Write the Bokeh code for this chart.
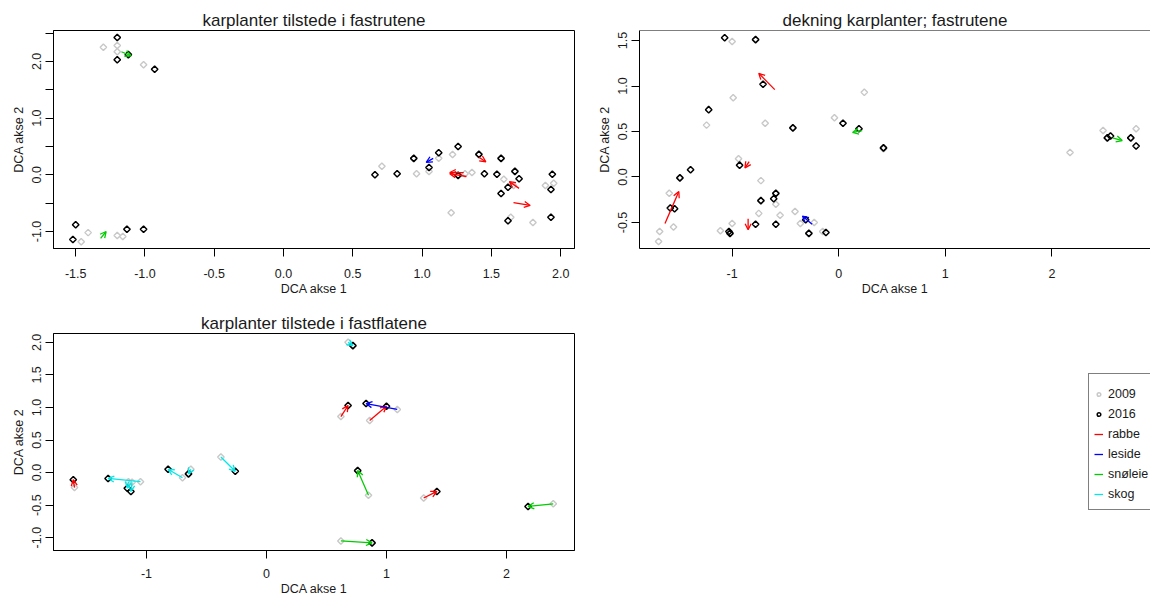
import numpy as np
from bokeh.plotting import figure
from bokeh.models import (Range1d, FixedTicker, Arrow, OpenHead, ColumnDataSource,
                          Span, Legend, LegendItem)
from bokeh.layouts import column, row
from bokeh.embed import file_html
from bokeh.resources import INLINE

FONT = "Liberation Sans"
TXT = "#1a1a1a"
GRAY = "#c8c8c8"
BLACK = "#000000"
GROUPS = ["rabbe", "leside", "snøleie", "skog"]
GROUP_COLORS = ["#ff0000", "#0000ff", "#00cc00", "#00e8e8"]

# ---------------- panel 1: karplanter tilstede i fastrutene ----------------
p1_x2009 = [-1.30, -1.20, -1.20, -1.01, -1.41, -1.46, -1.20, -1.16, 0.71, 0.96, 1.05,
            1.12, 1.22, 1.36, 1.31, 1.59, 1.66, 1.89, 1.95, 1.21, 1.80, 1.64]
p1_y2009 = [2.25, 2.28, 2.17, 1.94, -1.02, -1.18, -1.07, -1.09, 0.15, 0.02, 0.06,
            0.29, 0.36, 0.04, 0.02, -0.08, -0.19, -0.19, -0.15, -0.67, -0.84, -0.75]
p1_x2016 = [-1.20, -1.20, -1.12, -0.93, -1.50, -1.52, -1.13, -1.01, 0.66, 0.82, 0.94,
            1.05, 1.12, 1.26, 1.26, 1.41, 1.45, 1.57, 1.54, 1.67, 1.70, 1.62, 1.57,
            1.94, 1.93, 1.62, 1.93]
p1_y2016 = [2.42, 2.03, 2.12, 1.86, -0.88, -1.14, -0.96, -0.96, 0.00, 0.02, 0.29,
            0.13, 0.39, 0.50, -0.01, 0.36, 0.02, 0.29, 0.01, 0.06, -0.07, -0.22, -0.33,
            0.01, -0.26, -0.81, -0.75]
p1_arrow_group = ["snøleie", "snøleie", "rabbe", "rabbe", "rabbe", "rabbe", "rabbe", "leside"]
p1_arrow_x0 = [-1.17, -1.32, 1.32, 1.30, 1.41, 1.70, 1.66, 1.08]
p1_arrow_y0 = [2.17, -1.12, -0.03, 0.04, 0.31, -0.24, -0.49, 0.29]
p1_arrow_x1 = [-1.10, -1.28, 1.20, 1.20, 1.46, 1.63, 1.78, 1.03]
p1_arrow_y1 = [2.10, -1.00, 0.02, 0.04, 0.23, -0.12, -0.54, 0.22]
p1_xticks = [-1.5, -1.0, -0.5, 0.0, 0.5, 1.0, 1.5, 2.0]
p1_xlabels = ["-1.5", "-1.0", "-0.5", "0.0", "0.5", "1.0", "1.5", "2.0"]
p1_yticks = [-1.0, -0.5, 0.0, 0.5, 1.0, 1.5, 2.0, 2.5]
p1_ylabels = ["-1.0", "", "0.0", "", "1.0", "", "2.0", ""]

# ---------------- panel 2: dekning karplanter; fastrutene ----------------
p2_x2009 = [-1.00, -0.99, -1.24, -0.69, -0.04, -0.94, -0.73, -1.59, -1.55, -1.68, -1.69,
            -1.11, -1.00, -0.75, -0.59, -0.55, -0.41, -0.36, -0.23, -0.15, 0.24, 0.42,
            2.17, 2.48, 2.79]
p2_y2009 = [1.49, 0.87, 0.57, 0.59, 0.65, 0.20, -0.04, -0.18, -0.55, -0.60, -0.71,
            -0.59, -0.51, -0.40, -0.30, -0.42, -0.38, -0.51, -0.50, -0.60, 0.93, 0.31,
            0.27, 0.51, 0.53]
p2_x2016 = [-1.07, -0.78, -0.71, -1.22, -0.43, 0.04, 0.19, -1.39, -1.49, -0.93, -1.58,
            -1.54, -0.73, -0.59, -0.61, -0.78, -0.59, -1.03, -1.02, -0.31, -0.28, -0.12,
            0.42, 2.52, 2.55, 2.74, 2.79]
p2_y2016 = [1.53, 1.51, 1.02, 0.74, 0.54, 0.59, 0.53, 0.08, -0.01, 0.13, -0.34,
            -0.35, -0.26, -0.18, -0.24, -0.52, -0.52, -0.60, -0.62, -0.47, -0.62, -0.61,
            0.32, 0.43, 0.45, 0.43, 0.34]
p2_arrow_group = ["rabbe", "rabbe", "rabbe", "rabbe", "leside", "snøleie", "snøleie"]
p2_arrow_x0 = [-0.60, -1.63, -0.84, -0.85, -0.25, 0.22, 2.57]
p2_arrow_y0 = [0.96, -0.51, 0.17, -0.46, -0.52, 0.51, 0.43]
p2_arrow_x1 = [-0.75, -1.50, -0.88, -0.85, -0.34, 0.13, 2.66]
p2_arrow_y1 = [1.14, -0.16, 0.10, -0.58, -0.43, 0.49, 0.40]
p2_xticks = [-1.0, 0.0, 1.0, 2.0]
p2_xlabels = ["-1", "0", "1", "2"]
p2_yticks = [-0.5, 0.0, 0.5, 1.0, 1.5]
p2_ylabels = ["-0.5", "0.0", "0.5", "1.0", "1.5"]

# ---------------- panel 3: karplanter tilstede i fastflatene ----------------
p3_group = ["rabbe", "skog", "skog", "skog", "skog", "skog", "skog", "skog", "rabbe",
            "leside", "rabbe", "snøleie", "rabbe", "snøleie", "snøleie"]
p3_x2009 = [-1.60, -1.05, -1.15, -1.12, -0.70, -0.63, -0.38, 0.68, 0.62, 1.09, 0.86,
            0.85, 1.31, 2.39, 0.62]
p3_y2009 = [-0.23, -0.14, -0.14, -0.15, -0.08, 0.05, 0.24, 2.00, 0.86, 0.97, 0.80,
            -0.35, -0.39, -0.48, -1.05]
p3_x2016 = [-1.61, -1.32, -1.16, -1.13, -0.82, -0.65, -0.26, 0.72, 0.68, 0.83, 1.00,
            0.76, 1.42, 2.18, 0.88]
p3_y2016 = [-0.11, -0.09, -0.24, -0.29, 0.05, -0.02, 0.02, 1.95, 1.03, 1.06, 1.02,
            0.03, -0.29, -0.52, -1.08]
p3_xticks = [-1.0, 0.0, 1.0, 2.0]
p3_xlabels = ["-1", "0", "1", "2"]
p3_yticks = [-1.0, -0.5, 0.0, 0.5, 1.0, 1.5, 2.0]
p3_ylabels = ["-1.0", "-0.5", "0.0", "0.5", "1.0", "1.5", "2.0"]

legend_labels = ["2009", "2016"] + GROUPS


def make_panel(title, xr, yr, width, height, borders, xstand):
    left, right, top, bottom = borders
    p = figure(width=width, height=height, x_range=Range1d(*xr), y_range=Range1d(*yr),
               output_backend="svg", toolbar_location=None,
               min_border_left=left, min_border_right=right,
               min_border_top=top, min_border_bottom=bottom,
               background_fill_color="white", border_fill_color="white")
    p.grid.visible = False
    p.outline_line_color = "black"
    p.outline_line_width = 1
    p.title.text = title
    p.title.align = "center"
    p.title.text_font = FONT
    p.title.text_font_size = "17px"
    p.title.text_font_style = "normal"
    p.title.text_color = TXT
    p.title.standoff = 2
    p.xaxis.axis_label = "DCA akse 1"
    p.yaxis.axis_label = "DCA akse 2"
    for ax in list(p.xaxis) + list(p.yaxis):
        ax.major_tick_out = 8
        ax.major_tick_in = 0
        ax.minor_tick_line_color = None
        ax.axis_line_color = "black"
        ax.major_tick_line_color = "black"
        ax.major_label_text_font = FONT
        ax.major_label_text_font_size = "12.5px"
        ax.major_label_text_color = TXT
        ax.axis_label_text_font = FONT
        ax.axis_label_text_font_size = "12.5px"
        ax.axis_label_text_font_style = "normal"
        ax.axis_label_text_color = TXT
    p.xaxis.major_label_standoff = xstand[0]
    p.xaxis.axis_label_standoff = xstand[1]
    p.yaxis.major_label_standoff = 4
    p.yaxis.axis_label_standoff = 4
    p.yaxis.major_label_orientation = "vertical"
    return p


def set_ticks(p, xt, xl, yt, yl):
    p.xaxis.ticker = FixedTicker(ticks=xt)
    p.yaxis.ticker = FixedTicker(ticks=yt)
    p.xaxis.major_label_overrides = {float(t): l for t, l in zip(xt, xl)}
    p.yaxis.major_label_overrides = {float(t): l for t, l in zip(yt, yl)}


def add_points(p, x09, y09, x16, y16):
    p.scatter(x09, y09, marker="square", angle=np.pi / 4, size=4.6,
              fill_color=None, line_color=GRAY, line_width=1.4)
    p.scatter(x16, y16, marker="square", angle=np.pi / 4, size=4.6,
              fill_color=None, line_color=BLACK, line_width=1.5)


def add_arrows(p, groups, x0, y0, x1, y1):
    for g, c in zip(GROUPS, GROUP_COLORS):
        idx = [i for i, gg in enumerate(groups) if gg == g]
        if not idx:
            continue
        src = ColumnDataSource(dict(x0=[x0[i] for i in idx], y0=[y0[i] for i in idx],
                                    x1=[x1[i] for i in idx], y1=[y1[i] for i in idx]))
        p.add_layout(Arrow(end=OpenHead(size=6, line_color=c, line_width=1.3),
                           x_start="x0", y_start="y0", x_end="x1", y_end="y1",
                           source=src, line_color=c, line_width=1.3))


# panel 1
p1 = make_panel("karplanter tilstede i fastrutene", (-1.66, 2.10), (-1.30, 2.545),
                594, 300, (53, 20, 30, 52), (12, 1))
set_ticks(p1, p1_xticks, p1_xlabels, p1_yticks, p1_ylabels)
add_points(p1, p1_x2009, p1_y2009, p1_x2016, p1_y2016)
add_arrows(p1, p1_arrow_group, p1_arrow_x0, p1_arrow_y0, p1_arrow_x1, p1_arrow_y1)

# panel 2 (frame runs off the right edge of the picture)
p2_ymax = 1.61
p2 = make_panel("dekning karplanter; fastrutene", (-1.869, 2.925), (-0.786, p2_ymax),
                556, 300, (43, 0, 30, 52), (12, 1))
p2.outline_line_color = None
p2.add_layout(Span(location=p2_ymax, dimension="width", line_color="black", line_width=1))
set_ticks(p2, p2_xticks, p2_xlabels, p2_yticks, p2_ylabels)
add_points(p2, p2_x2009, p2_y2009, p2_x2016, p2_y2016)
add_arrows(p2, p2_arrow_group, p2_arrow_x0, p2_arrow_y0, p2_arrow_x1, p2_arrow_y1)

# panel 3
p3 = make_panel("karplanter tilstede i fastflatene", (-1.775, 2.567), (-1.197, 2.136),
                594, 298, (53, 20, 33, 45), (10, 1))
set_ticks(p3, p3_xticks, p3_xlabels, p3_yticks, p3_ylabels)
add_points(p3, p3_x2009, p3_y2009, p3_x2016, p3_y2016)
add_arrows(p3, p3_group, p3_x2009, p3_y2009, p3_x2016, p3_y2016)

# legend panel
p4 = figure(width=556, height=298, x_range=Range1d(0, 1), y_range=Range1d(0, 1),
            output_backend="svg", toolbar_location=None,
            x_axis_location=None, y_axis_location=None, min_border=0,
            background_fill_color="white", border_fill_color="white")
p4.grid.visible = False
p4.outline_line_color = None
r09 = p4.scatter(x=[-5], y=[-5], marker="circle", size=5, fill_color=None,
                 line_color=GRAY, line_width=1.5)
r16 = p4.scatter(x=[-5], y=[-5], marker="circle", size=5, fill_color=None,
                 line_color=BLACK, line_width=1.5)
items = [LegendItem(label=legend_labels[0], renderers=[r09]),
         LegendItem(label=legend_labels[1], renderers=[r16])]
for g, c in zip(GROUPS, GROUP_COLORS):
    rl = p4.line(x=[-5, -4], y=[-5, -4], line_color=c, line_width=1.3)
    items.append(LegendItem(label=g, renderers=[rl]))
leg = Legend(items=items, location=(494, 40), margin=0, padding=5,
             title=" ", title_text_font_size="1px", title_standoff=4,
             glyph_width=9, glyph_height=20, label_height=20, spacing=0,
             label_standoff=5, label_text_font=FONT, label_text_font_size="12.5px",
             label_text_color=TXT, border_line_color="black", border_line_width=1,
             background_fill_color="white", background_fill_alpha=1)
p4.add_layout(leg, "center")

layout = column(row(p1, p2), row(p3, p4))
open("out.html", "w").write(file_html(layout, INLINE))
